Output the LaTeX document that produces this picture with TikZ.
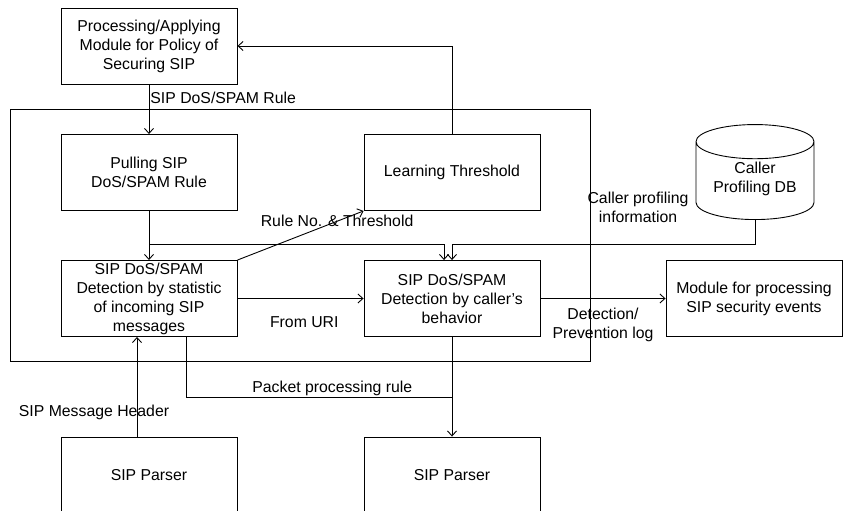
\documentclass[tikz,border=0pt]{standalone}
\usepackage{fontspec}
\setmainfont{Liberation Sans}
\usetikzlibrary{positioning,shapes.geometric,arrows.meta}

\begin{document}
\begin{tikzpicture}[x=1pt,y=-1pt,node distance=303pt,on grid,auto,line width=0.9pt,
  font=\fontsize{15.8}{19}\selectfont,
  >={Straight Barb[length=5pt,width=9pt]},
  module/.style={draw,minimum width=176pt,minimum height=76pt,inner sep=1pt,align=center},
  lbl/.style={inner sep=1pt,align=center},
  hv/.style={to path={-| (\tikztotarget) \tikztonodes}},
  vh/.style={to path={|- (\tikztotarget) \tikztonodes}}]
\useasboundingbox (0,0) rectangle (846,511);
\clip (0,0) rectangle (846,511);

\node[module] (policy) at (149,46) {Processing/Applying\\Module for Policy of\\Securing SIP};
\node[module] (pull) [below=126.5pt of policy] {Pulling SIP\\DoS/SPAM Rule};
\node[module] (learn) [right=of pull] {Learning Threshold};
\node[module] (stat) [below=126pt of pull] {SIP DoS/SPAM\\Detection by statistic\\of incoming SIP\\messages};
\node[module] (caller) [right=of stat] {SIP DoS/SPAM\\Detection by caller’s\\behavior};
\node[module] (events) [right=302pt of caller] {Module for processing\\SIP security events};
\node[module] (parserA) [below=176.5pt of stat] {SIP Parser};
\node[module] (parserB) [right=of parserA] {SIP Parser};
\node[cylinder,shape border rotate=90,draw,aspect=0.4,minimum width=118pt,minimum height=95pt,
  align=center,inner sep=1pt,text height=24pt,anchor=south] (db) at (755,220) {Caller\\Profiling DB};
\node[lbl,anchor=east] (dbinfo) at ([xshift=-65pt,yshift=13pt]db.south) {Caller profiling\\information};

% security module frame
\draw (10,109) rectangle (590,361);

\coordinate (split) at ([yshift=-33pt]pull.south);
\coordinate (join) at ([yshift=-60pt]caller.south);

\path[->]
(learn.north) edge [vh] (policy.east)
(policy) edge node [lbl,pos=0.27,anchor=west] {SIP DoS/SPAM Rule} (pull)

(pull) edge (stat)
(split) edge [hv] ([xshift=-8pt]caller.north)

(stat.north east) edge node [lbl,pos=0.79,anchor=center] {Rule No. \& Threshold} (learn.south west)
(stat) edge node [lbl,pos=0.53,below=17pt] {From URI} (caller)
(caller) edge node [lbl,below=8pt] {Detection/\\Prevention log} (events)

(caller.south) edge (parserB.north)
([xshift=-12pt]parserA.north) edge node [lbl,pos=0.24,xshift=-43pt,anchor=center] {SIP Message Header} ([xshift=-12pt]stat.south)
; %end path

\draw[->] (db.south) |- (split -| caller.north) -- (caller.north);
\draw ([xshift=37pt]stat.south) |- node [lbl,pos=0.775,above] {Packet processing rule} (join);
\end{tikzpicture}
\end{document}
